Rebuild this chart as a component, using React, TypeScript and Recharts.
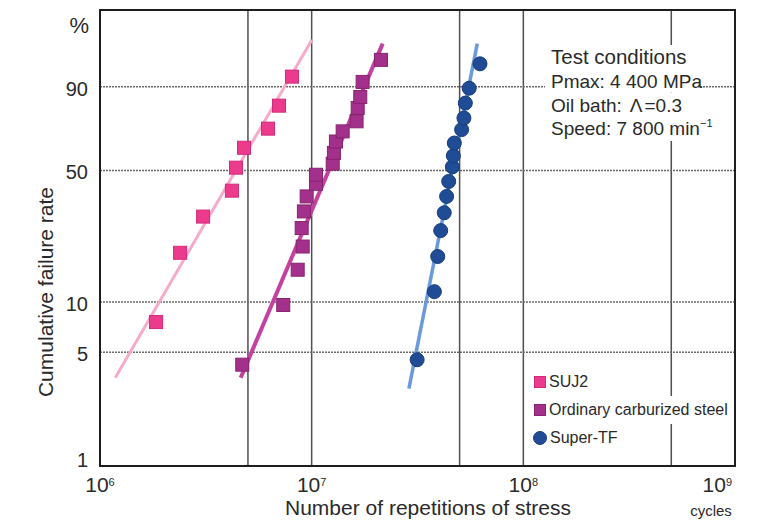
import React from 'react';
import { ScatterChart, Scatter, XAxis, YAxis, CartesianGrid, Legend } from 'recharts';

// ---------- data (cycles, cumulative failure rate %) ----------
const suj2Cycles = [1.84e6, 2.39e6, 3.07e6, 4.2e6, 4.39e6, 4.79e6, 6.22e6, 7.01e6, 8.07e6];
const suj2Rate = [7.6, 19.2, 30.1, 40.5, 51.4, 61.7, 71.7, 82.7, 93.0];

const ordinaryCycles = [4.7e6, 7.34e6, 8.59e6, 9.07e6, 8.97e6, 9.19e6, 9.47e6, 1.048e7, 1.048e7, 1.257e7, 1.274e7, 1.302e7, 1.401e7, 1.63e7, 1.65e7, 1.697e7, 1.741e7, 2.125e7];
const ordinaryRate = [4.2, 9.6, 15.4, 20.8, 26.2, 32.0, 38.0, 43.6, 47.9, 53.4, 59.0, 65.0, 70.3, 75.4, 81.7, 86.3, 91.5, 96.6];

const superTfCycles = [3.15e7, 3.8e7, 3.94e7, 4.07e7, 4.23e7, 4.34e7, 4.44e7, 4.62e7, 4.67e7, 4.72e7, 5.11e7, 5.24e7, 5.32e7, 5.55e7, 6.24e7];
const superTfRate = [4.5, 11.5, 18.3, 25.4, 31.5, 38.0, 44.7, 51.8, 57.5, 64.2, 71.2, 77.0, 83.8, 89.5, 95.9];

const suj2FitCycles = [1.18e6, 1.003e7];
const suj2FitRate = [3.5, 98.9];
const ordinaryFitCycles = [4.62e6, 2.165e7];
const ordinaryFitRate = [3.5, 98.6];
const superTfFitCycles = [2.88e7, 6.06e7];
const superTfFitRate = [3.0, 98.6];

const yTickRates = [1, 5, 10, 50, 90];
const yDomainRates = [1, 99.9];
const xTickCycles = [1e6, 5e6, 1e7, 5e7, 1e8, 5e8, 1e9];
const xDomain = [1e6, 1e9];

const seriesNames = ['SUJ2', 'Ordinary carburized steel', 'Super-TF'];
const testConditions = ['Test conditions', 'Pmax: 4 400 MPa', 'Oil bath:', 'Speed: 7 800 min'];

// ---------- helpers ----------
const FONT = '"Liberation Sans", Arial, Helvetica, sans-serif';
const TEXT = '#2a2a2a';
const wb = (pct: number) => Math.log(-Math.log(1 - pct / 100));
const fromWb = (w: number) => 100 * (1 - Math.exp(-Math.exp(w)));
const build = (xs: number[], ps: number[]) => xs.map((x, i) => ({ x, y: wb(ps[i]) }));

const suj2Data = build(suj2Cycles, suj2Rate);
const ordinaryData = build(ordinaryCycles, ordinaryRate);
const superTfData = build(superTfCycles, superTfRate);
const suj2Fit = build(suj2FitCycles, suj2FitRate);
const ordinaryFit = build(ordinaryFitCycles, ordinaryFitRate);
const superTfFit = build(superTfFitCycles, superTfFitRate);

const COLORS = {
  suj2: '#ec3a8c',
  suj2Edge: '#d22a7a',
  suj2Line: '#f6abcb',
  ord: '#a3308a',
  ordEdge: '#86246f',
  ordLine: '#c4419f',
  stf: '#1f4c95',
  stfEdge: '#173d7b',
  stfLine: '#6a9ad9',
};

const Square = (fill: string, edge: string, size: number) => (props: any) => {
  const { cx, cy } = props;
  if (cx == null || cy == null) return <g />;
  return <rect x={cx - size / 2} y={cy - size / 2} width={size} height={size} fill={fill} stroke={edge} strokeWidth={1} />;
};
const Dot = (fill: string, edge: string, r: number) => (props: any) => {
  const { cx, cy } = props;
  if (cx == null || cy == null) return <g />;
  return <circle cx={cx} cy={cy} r={r} fill={fill} stroke={edge} strokeWidth={1} />;
};
const NoShape = () => <g />;

const XTick = (props: any) => {
  const { x, y, payload, index } = props;
  const v = payload.value as number;
  const e = Math.log10(v);
  if (Math.abs(e - Math.round(e)) > 1e-6) return <g />;
  const isLast = Math.abs(v - xDomain[1]) < 1;
  return (
    <text
      x={isLast ? x - 3 : x}
      y={y + 26}
      textAnchor={isLast ? 'end' : 'middle'}
      fontFamily={FONT}
      fontSize={21}
      fill={TEXT}
    >
      10<tspan fontSize={11} dy={-6}>{Math.round(e)}</tspan>
    </text>
  );
};

const YTick = (props: any) => {
  const { x, y, payload } = props;
  const pct = Math.round(fromWb(payload.value));
  const isBottom = pct === yDomainRates[0];
  return (
    <text x={x - 12} y={isBottom ? y + 1 : y + 9} textAnchor="end" fontFamily={FONT} fontSize={20} fill={TEXT}>
      {pct}
    </text>
  );
};

const legendMarkers = [
  <span key="a" style={{ display: 'inline-block', width: 12, height: 12, background: COLORS.suj2, border: `1px solid ${COLORS.suj2Edge}`, boxSizing: 'border-box' }} />,
  <span key="b" style={{ display: 'inline-block', width: 12, height: 12, background: COLORS.ord, border: `1px solid ${COLORS.ordEdge}`, boxSizing: 'border-box' }} />,
  <span key="c" style={{ display: 'inline-block', width: 14, height: 14, borderRadius: 7, background: COLORS.stf, border: `1px solid ${COLORS.stfEdge}`, boxSizing: 'border-box', marginLeft: -1 }} />,
];

const LegendContent = () => (
  <div style={{ fontFamily: FONT, fontSize: 16, color: TEXT }}>
    {seriesNames.map((n, i) => (
      <div key={n} style={{ display: 'flex', alignItems: 'center', height: 28 }}>
        {legendMarkers[i]}
        <span style={{ background: '#fff', lineHeight: '28px', height: 28, paddingLeft: 3, paddingRight: 3, whiteSpace: 'nowrap' }}>{n}</span>
      </div>
    ))}
  </div>
);

export default function App() {
  const W = 767;
  const H = 524;
  const plot = { left: 100, top: 10, right: 735, bottom: 466 };
  const tcBaselines = [64, 87.5, 111.5, 135];
  const tcRectRight = [694, 698, 682, 718];
  return (
    <div style={{ position: 'absolute', left: 0, top: 0, width: W, height: H, background: '#fff' }}>
      <ScatterChart width={W} height={H} margin={{ top: plot.top, right: W - plot.right, bottom: 0, left: 0 }}>
        <CartesianGrid horizontal={false} vertical stroke="#505050" strokeWidth={1.5} />
        <CartesianGrid horizontal vertical={false} stroke="#6a6a6a" strokeWidth={1.6} strokeDasharray="2 1" />
        <XAxis
          dataKey="x"
          type="number"
          scale="log"
          domain={xDomain}
          ticks={xTickCycles}
          interval={0}
          allowDataOverflow
          axisLine={false}
          tickLine={false}
          tickSize={0}
          tickMargin={0}
          height={H - plot.bottom}
          tick={<XTick />}
        />
        <YAxis
          dataKey="y"
          type="number"
          domain={[wb(yDomainRates[0]), wb(yDomainRates[1])]}
          ticks={yTickRates.map(wb)}
          interval={0}
          allowDataOverflow
          axisLine={false}
          tickLine={false}
          tickSize={0}
          tickMargin={0}
          width={plot.left}
          tick={<YTick />}
        />
        <Scatter name="SUJ2 fit" data={suj2Fit} line={{ stroke: COLORS.suj2Line, strokeWidth: 3 }} shape={NoShape} legendType="none" isAnimationActive={false} />
        <Scatter name="Ordinary fit" data={ordinaryFit} line={{ stroke: COLORS.ordLine, strokeWidth: 4 }} shape={NoShape} legendType="none" isAnimationActive={false} />
        <Scatter name="Super-TF fit" data={superTfFit} line={{ stroke: COLORS.stfLine, strokeWidth: 3.5 }} shape={NoShape} legendType="none" isAnimationActive={false} />
        <Scatter name={seriesNames[0]} data={suj2Data} shape={Square(COLORS.suj2, COLORS.suj2Edge, 13)} isAnimationActive={false} />
        <Scatter name={seriesNames[1]} data={ordinaryData} shape={Square(COLORS.ord, COLORS.ordEdge, 13)} isAnimationActive={false} />
        <Scatter name={seriesNames[2]} data={superTfData} shape={Dot(COLORS.stf, COLORS.stfEdge, 7)} isAnimationActive={false} />
        <Legend
          layout="vertical"
          align="center"
          verticalAlign="middle"
          content={<LegendContent />}
          wrapperStyle={{ position: 'absolute', left: 534, top: 368, width: 215, height: 84, margin: 0 }}
        />
      </ScatterChart>
      <svg width={W} height={H} style={{ position: 'absolute', left: 0, top: 0, pointerEvents: 'none' }}>
        <rect x={plot.left} y={plot.top} width={plot.right - plot.left} height={plot.bottom - plot.top} fill="none" stroke="#1e1e1e" strokeWidth={2} />
        {tcBaselines.map((b, i) => (
          <rect key={i} x={545} y={b - 19} width={tcRectRight[i] - 545} height={i === 3 ? 25 : 24} fill="#fff" />
        ))}
        <text x={551} y={tcBaselines[0]} fontFamily={FONT} fontSize={20.5} fill={TEXT}>{testConditions[0]}</text>
        <text x={551} y={tcBaselines[1]} fontFamily={FONT} fontSize={19} fill={TEXT}>{testConditions[1]}</text>
        <text x={551} y={tcBaselines[2]} fontFamily={FONT} fontSize={19} fill={TEXT}>
          {testConditions[2]}<tspan dx={8}>Λ</tspan><tspan dx={2}>=0.3</tspan>
        </text>
        <text x={551} y={tcBaselines[3]} fontFamily={FONT} fontSize={19} fill={TEXT}>
          {testConditions[3]}<tspan fontSize={11} dy={-8}>−1</tspan>
        </text>
        <text x={89} y={33} textAnchor="end" fontFamily={FONT} fontSize={22} fill={TEXT}>%</text>
        <text x={53} y={292} transform="rotate(-90, 53, 292)" textAnchor="middle" fontFamily={FONT} fontSize={21} fill={TEXT}>Cumulative failure rate</text>
        <text x={428} y={515} textAnchor="middle" fontFamily={FONT} fontSize={21} fill={TEXT}>Number of repetitions of stress</text>
        <text x={711} y={516} textAnchor="middle" fontFamily={FONT} fontSize={15} fill={TEXT}>cycles</text>
      </svg>
    </div>
  );
}
